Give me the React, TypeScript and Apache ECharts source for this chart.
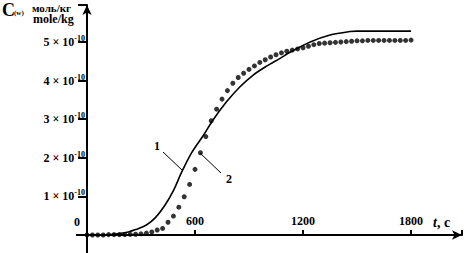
import React, { useEffect, useRef } from "react";
import * as echarts from "echarts";

const dotTimes = [0, 30, 60, 90, 120, 150, 180, 210, 240, 270, 300, 330, 360, 390, 420, 450, 480, 510, 540, 570, 600, 630, 660, 690, 720, 750, 780, 810, 840, 870, 900, 930, 960, 990, 1020, 1050, 1080, 1110, 1140, 1170, 1200, 1230, 1260, 1290, 1320, 1350, 1380, 1410, 1440, 1470, 1500, 1530, 1560, 1590, 1620, 1650, 1680, 1710, 1740, 1770, 1800];
const dotValues = [0, 0, 0, 0, 0.01, 0.01, 0.01, 0.01, 0.015, 0.02, 0.03, 0.05, 0.08, 0.13, 0.17, 0.33, 0.49, 0.72, 0.99, 1.31, 1.7, 2.13, 2.55, 2.96, 3.26, 3.52, 3.74, 3.93, 4.08, 4.19, 4.29, 4.38, 4.47, 4.54, 4.61, 4.67, 4.72, 4.76, 4.79, 4.82, 4.85, 4.89, 4.93, 4.96, 4.97, 4.98, 4.99, 5.0, 5.01, 5.02, 5.03, 5.03, 5.04, 5.04, 5.04, 5.04, 5.04, 5.04, 5.04, 5.04, 5.05];
const lineTimes = [0, 100, 180, 230, 270, 330, 380, 430, 480, 525, 580, 645, 700, 775, 850, 925, 1000, 1070, 1130, 1240, 1350, 1460, 1500, 1800];
const lineValues = [0, 0.005, 0.04, 0.08, 0.14, 0.26, 0.45, 0.75, 1.15, 1.62, 2.12, 2.57, 2.98, 3.45, 3.84, 4.15, 4.38, 4.57, 4.74, 5.0, 5.18, 5.27, 5.28, 5.28];
const xTicks = [600, 1200, 1800];
const yTickMantissas = [1, 2, 3, 4, 5];

const FONT = "Liberation Serif";

export default function App() {
  const ref = useRef<HTMLDivElement>(null);
  useEffect(() => {
    if (!ref.current) return;
    const chart = echarts.init(ref.current, null, { renderer: "svg" });
    chart.setOption({
      animation: false,
      backgroundColor: "#fff",
      grid: { left: 87, top: 5, bottom: 18, right: 3 },
      xAxis: {
        type: "value",
        min: 0,
        max: 2083,
        interval: 600,
        splitLine: { show: false },
        axisLine: { show: true, lineStyle: { color: "#000", width: 2 }, symbol: ["none", "arrow"], symbolSize: [7, 10] },
        axisTick: { show: true, inside: true, length: 5, lineStyle: { color: "#000", width: 2 } },
        axisLabel: {
          inside: true,
          margin: 8,
          fontFamily: FONT,
          fontWeight: "bold",
          fontSize: 12,
          color: "#000",
          formatter: (v: number) => (xTicks.includes(v) ? String(v) : ""),
        },
      },
      yAxis: {
        type: "value",
        min: 0,
        max: 5.958,
        interval: 1,
        splitLine: { show: false },
        axisLine: { show: true, lineStyle: { color: "#000", width: 2 }, symbol: ["none", "arrow"], symbolSize: [7, 10] },
        axisTick: { show: true, length: 9, lineStyle: { color: "#000", width: 2 } },
        axisLabel: {
          margin: 2,
          color: "#000",
          formatter: (v: number) =>
            yTickMantissas.includes(v) ? `{a|${v} × 10}{b|-10}` : "",
          rich: {
            a: { fontFamily: FONT, fontWeight: "bold", fontSize: 12, color: "#000" },
            b: { fontFamily: FONT, fontWeight: "bold", fontSize: 8, color: "#000", padding: [0, 0, 7, 0] },
          },
        },
      },
      series: [
        {
          type: "line",
          data: lineTimes.map((t, i) => [t, lineValues[i]]),
          smooth: 0.3,
          showSymbol: false,
          lineStyle: { color: "#000", width: 1.6 },
          z: 2,
        },
        {
          type: "scatter",
          data: dotTimes.map((t, i) => [t, dotValues[i]]),
          symbol: "circle",
          symbolSize: 5,
          itemStyle: { color: "#000" },
          z: 3,
        },
      ],
      graphic: [
        { type: "line", shape: { x1: 87, y1: 235, x2: 87, y2: 253 }, style: { stroke: "#000", lineWidth: 2 } },
        { type: "line", shape: { x1: 76, y1: 235, x2: 87, y2: 235 }, style: { stroke: "#000", lineWidth: 2 } },
        { type: "text", x: 80, y: 222, style: { text: "0", fontFamily: FONT, fontWeight: "bold", fontSize: 12, fill: "#000", align: "right", verticalAlign: "middle" } },
        {
          type: "text",
          x: 433,
          y: 222,
          style: {
            text: "{i|t}{n|, c}",
            verticalAlign: "middle",
            rich: {
              i: { fontFamily: FONT, fontWeight: "bold", fontStyle: "italic", fontSize: 14, fill: "#000" },
              n: { fontFamily: FONT, fontWeight: "bold", fontSize: 14, fill: "#000" },
            },
          },
        },
        { type: "text", x: 2, y: 1, style: { text: "C", fontFamily: FONT, fontWeight: "bold", fontSize: 18, fill: "#000" } },
        { type: "text", x: 14, y: 9, style: { text: "(w)", fontFamily: FONT, fontWeight: "bold", fontSize: 7, fill: "#000" } },
        { type: "text", x: 32, y: 2, style: { text: "моль/кг", fontFamily: FONT, fontWeight: "bold", fontSize: 11, fill: "#000" } },
        { type: "text", x: 33, y: 13, style: { text: "mole/kg", fontFamily: FONT, fontWeight: "bold", fontSize: 12, fill: "#000" } },
        { type: "text", x: 154, y: 140, style: { text: "1", fontFamily: FONT, fontWeight: "bold", fontSize: 12, fill: "#000" } },
        { type: "line", shape: { x1: 163, y1: 152, x2: 182, y2: 170 }, style: { stroke: "#000", lineWidth: 1 } },
        { type: "text", x: 226, y: 173, style: { text: "2", fontFamily: FONT, fontWeight: "bold", fontSize: 12, fill: "#000" } },
        { type: "line", shape: { x1: 200, y1: 153, x2: 221, y2: 173 }, style: { stroke: "#000", lineWidth: 1 } },
      ],
    });
    return () => chart.dispose();
  }, []);
  return <div ref={ref} style={{ width: 465, height: 253, position: "absolute", left: 0, top: 0 }} />;
}
